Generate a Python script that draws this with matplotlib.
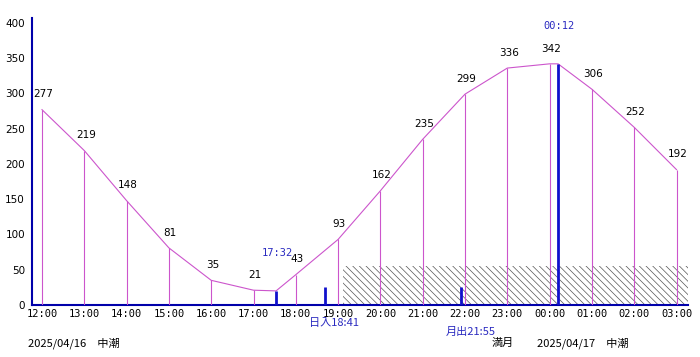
import matplotlib
matplotlib.use('Agg')
import matplotlib.pyplot as plt

plt.rcParams['font.family'] = ['DejaVu Sans', 'Noto Sans CJK JP']
plt.rcParams['hatch.linewidth'] = 0.5

# hours counted from 00:00 of 2025/04/16
hours = list(range(12, 28))
hour_labels = ['%02d:00' % (h % 24) for h in hours]
levels = [277, 219, 148, 81, 35, 21, 43, 93, 162, 235, 299, 336, 342, 306, 252, 192]

# tide extremes (time, level, label)
ext_times = [17 + 32 / 60, 24 + 12 / 60]
ext_levels = [20, 342]
ext_labels = ['17:32', '00:12']

sunset = 18 + 41 / 60
moonrise = 21 + 55 / 60
dark_start = 19 + 7 / 60
dark_level = 56
event_level = 26

magenta = '#cc55cc'
blue = '#1010cc'
txtblue = '#2a2ac0'

fig = plt.figure(figsize=(7, 3.57), dpi=100)
ax = fig.add_axes([32 / 700, 1 - 305 / 357, 656 / 700, 287 / 357])
x0 = 12 - 10 / 42.3
x1 = 12 + (688 - 42) / 42.3
ax.set_xlim(x0, x1)
ax.set_ylim(0, 407)

# night hatch
ax.fill_between([dark_start, x1], 0, dark_level, facecolor='white',
                edgecolor='#555555', hatch='\\' * 5, linewidth=0, zorder=1)

# tide curve through hourly values and extremes
pts = sorted(list(zip(hours, levels)) + list(zip(ext_times, ext_levels)))
ax.plot([p[0] for p in pts], [p[1] for p in pts], color=magenta, lw=0.8, zorder=3)
ax.vlines(hours, 0, levels, color=magenta, lw=0.8, zorder=3)
for h, v in zip(hours, levels):
    ax.annotate(str(v), (h, v), xytext=(1, 11), textcoords='offset points',
                ha='center', va='center', fontsize=7.5, zorder=5)

# extremes
ax.vlines(ext_times, 0, ext_levels, color=blue, lw=2, zorder=4)
for t, v, s in zip(ext_times, ext_levels, ext_labels):
    ax.annotate(s, (t, v), xytext=(1, 27), textcoords='offset points',
                ha='center', va='center', fontsize=7.5, color=txtblue,
                family='DejaVu Sans Mono', zorder=5)

# sunset / moonrise markers
ax.vlines([sunset, moonrise], 0, event_level, color=blue, lw=2, zorder=4)
ax.annotate('日入18:41', (sunset, 0), xytext=(7, -13), textcoords='offset points',
            ha='center', va='center', fontsize=8, color=txtblue,
            family=['Noto Sans CJK JP', 'DejaVu Sans'], annotation_clip=False)
ax.annotate('月出21:55', (moonrise, 0), xytext=(7, -19.5), textcoords='offset points',
            ha='center', va='center', fontsize=8, color=txtblue,
            family=['Noto Sans CJK JP', 'DejaVu Sans'], annotation_clip=False)

ax.set_xticks(hours)
ax.set_xticklabels(hour_labels, family='DejaVu Sans Mono', fontsize=7.5)
ax.set_yticks(range(0, 401, 50))
ax.tick_params(length=0, labelsize=7.5, pad=5)
ax.tick_params(axis='x', pad=3)

for s in ['top', 'right']:
    ax.spines[s].set_visible(False)
for s in ['left', 'bottom']:
    ax.spines[s].set_color('#0000aa')
    ax.spines[s].set_linewidth(1.5)

jp = ['Noto Sans CJK JP', 'DejaVu Sans']
fig.text(28 / 700, 1 - 343 / 357, '2025/04/16\u3000中潮', fontsize=8, va='center', family=jp)
fig.text(492 / 700, 1 - 343 / 357, '満月', fontsize=8, va='center', family=jp)
fig.text(537 / 700, 1 - 343 / 357, '2025/04/17\u3000中潮', fontsize=8, va='center', family=jp)

fig.savefig('out.png', dpi=100)
